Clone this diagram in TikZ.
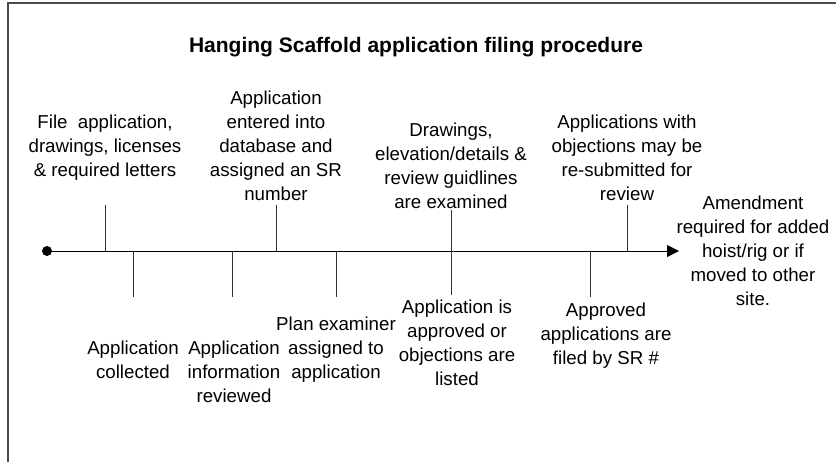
\documentclass[tikz,border=0pt]{standalone}
\usepackage{fontspec}
\setmainfont{Liberation Sans}
\usepackage{tikz}
\usetikzlibrary{arrows.meta}
\tikzstyle{every node}=[inner sep=0pt, align=center,
                        font=\fontsize{9.35}{12}\selectfont]
\tikzstyle{every picture}=[x=0.5pt,y=-0.5pt]
\tikzstyle{tick}=[draw=black!80, line width=0.5pt]
\tikzstyle{frame}=[draw=black!70, line width=1pt]

\begin{document}
\begin{tikzpicture}
      \useasboundingbox (0,0) rectangle (836,462);
      \draw[frame] (8,462) -- (8,3) -- (836,3);
      \node[font=\fontsize{10.5}{12}\selectfont\bfseries] (title) at (416,47)
	{Hanging Scaffold application filing procedure};
      % the time line
      \node[circle, fill=black, minimum size=5pt] (start) at (47,251) {};
      \coordinate (end) at (679,251);
	\draw[line width=0.5pt, -{Triangle[length=6pt,width=6pt]}] (start.center)--(end);
      % steps above the line
      \node (file) at (105,148) {File\ \ application,\\drawings, licenses\\\& required letters};
      \node (entered) at (276,146) {Application\\entered into\\database and\\assigned an SR\\number};
      \node (examined) at (451,166) {Drawings,\\elevation/details \&\\review guidlines\\are examined};
      \node (resubmit) at (627,158) {Applications with\\objections may be\\re-submitted for\\review};
      % steps below the line
      \node (collected) at (133,360) {Application\\collected};
      \node (reviewed) at (234,372) {Application\\information\\reviewed};
      \node (assigned) at (336,350) {Plan examiner\\assigned to\\application};
      \node (listed) at (457,343) {Application is\\approved or\\objections are\\listed};
      \node (filed) at (606,336) {Approved\\applications are\\filed by SR \#};
      \node (amend) at (753,251) {Amendment\\required for added\\hoist/rig or if\\moved to other\\site.};
      % ticks
      \foreach \x in {105,276,627}
	\draw[tick] (\x,251) -- (\x,205);
      \foreach \x in {133,232,336,590}
	\draw[tick] (\x,251) -- (\x,297);
	\draw[tick] (451,210) -- (451,295);
      \end{tikzpicture}
\end{document}
